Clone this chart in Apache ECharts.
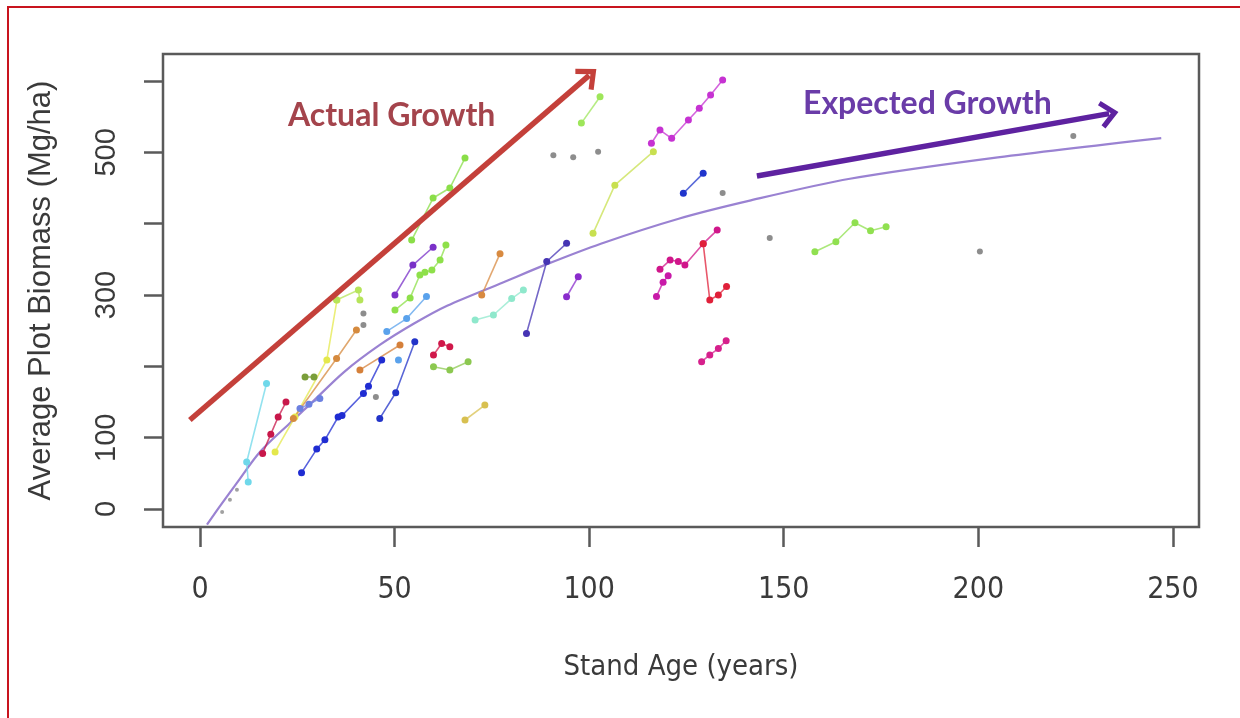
<!DOCTYPE html>
<html>
<head>
<meta charset="utf-8">
<script src="https://cdn.jsdelivr.net/npm/echarts@6/dist/echarts.min.js"></script>
<style>
  html, body { margin: 0; padding: 0; background: #ffffff; }
  #chart { width: 1240px; height: 718px; }
  #frame { position: absolute; left: 7px; top: 6px; width: 1240px; height: 730px;
           border-top: 2px solid #c8141e; border-left: 2px solid #c8141e; pointer-events: none; }
</style>
</head>
<body>
<div id="chart"></div>
<div id="frame"></div>
<script>
// ---- axis ticks ----
const ageTicks = [0, 50, 100, 150, 200, 250];
const biomassTicks = [0, 100, 200, 300, 400, 500, 600];
const biomassTickLabels = [0, 100, 300, 500];

// ---- expected growth curve ----
const expectedGrowth = [[1.8,-22],[5,3],[9.4,36],[15.4,80],[23,120],[28.3,147],[37,192],[46.2,230],[55,260],[63.5,285],[78,318],[89,343],[103,372],[123,407],[141,432],[167,463],[205,493],[247,520]];

// ---- arrows (annotation endpoints, age / biomass) ----
const actualArrow = [[-2.6,124.8],[100,608]];
const expectedArrow = [[143.1,466.9],[233.6,554.3]];

// ---- plot trajectories (age, biomass) ----
const cyanA = [[12.4,38],[12,66],[17.1,176]];
const crimsonA = [[16.1,78],[18.2,105],[20.1,129],[22.1,150]];
const yellowA = [[19.3,80],[24.4,129],[32.6,209],[35.2,293]];
const oliveA = [[27,185],[29.3,185]];
const periwinkleA = [[25.7,141],[28,147],[30.8,155]];
const orangeA = [[24,127],[35.1,211],[40.2,251]];
const orangeB = [[41.1,195],[51.4,230]];
const navyA = [[26.1,51],[30,84],[32.1,97],[35.5,129],[36.5,131],[42,162],[43.3,172],[46.7,209]];
const navyB = [[46.2,127],[50.3,163],[55.2,234.5]];
const purpleA = [[50.1,300],[54.7,342],[59.9,367]];
const lightBlueA = [[48,249],[53.1,267],[58.2,298]];
const lightBlueB = [[51,209]];
const limeA = [[50.1,279],[54,296],[56.5,328],[57.8,332],[59.6,335],[61.7,349],[63.2,370]];
const lightGreenB = [[35.1,293],[40.7,307],[41.1,293]];
const greenA = [[54.4,377],[59.9,436],[64.2,450],[68.1,492]];
const crimsonB = [[60,216],[62.1,232],[64.2,227.5]];
const greenB = [[60,199.5],[64.2,195],[68.9,206.5]];
const goldA = [[68.1,124.8],[73.2,145.8]];
const aquaA = [[70.7,265],[75.4,272],[80.1,295],[83.1,307]];
const orangeC = [[72.4,300],[77.1,358]];
const indigoA = [[83.9,246],[89.1,347],[94.2,372.5]];
const purpleB = [[94.2,297.6],[97.2,325.7]];
const lightGreenTop = [[98,541],[102.8,578]];
const yellowGreenA = [[101,386.5],[106.6,454],[116.5,501]];
const magentaA = [[116,512.7],[118.2,531.3],[121.2,519.7],[125.5,545.4],[128.3,561.8],[131.2,580.4],[134.3,601.4]];
const blueA = [[124.2,442.6],[129.3,470.6]];
const magentaB = [[117.3,298],[119,318],[120.3,327]];
const magentaC = [[118.2,336],[120.8,349],[122.9,347],[124.6,342],[129.3,372],[132.9,391]];
const redA = [[129.3,372],[131,293],[133.2,300],[135.3,312]];
const pinkLow = [[128.9,206.5],[131,216],[133.2,225],[135.2,236]];
const greenC = [[158,360.7],[163.4,374.7],[168.3,401.4],[172.3,390.2],[176.3,395.8]];
const grayDots = [[42,274],[42,258],[45.2,157],[90.8,496],[95.9,493],[102.3,501],[134.3,443],[146.4,380],[200.4,361],[224.4,523]];
const grayTicks = [[5.7,-4],[7.7,13],[9.5,27]];

const trajectories = [
  [cyanA, '#6fd8ea'], [crimsonA, '#c8174a'], [yellowA, '#e4e84c'], [oliveA, '#7a9e3a'],
  [periwinkleA, '#6c80e0'], [orangeA, '#d58a3e'], [orangeB, '#d5803a'], [navyA, '#1f2cd2'],
  [navyB, '#2233c8'], [purpleA, '#7a30c8'], [lightBlueA, '#5aa2ec'], [lightBlueB, '#5aa2ec'],
  [limeA, '#8ee04a'], [lightGreenB, '#b6e45a'], [greenA, '#8ade48'], [crimsonB, '#d0184a'],
  [greenB, '#8cc850'], [goldA, '#d8c050'], [aquaA, '#8fe8cc'], [orangeC, '#d88a40'],
  [indigoA, '#4634b4'], [purpleB, '#8a2ccc'], [lightGreenTop, '#9ee65a'], [yellowGreenA, '#c8e050'],
  [magentaA, '#c632d2'], [blueA, '#2035cc'], [magentaB, '#c81aa8'], [magentaC, '#d0168a'],
  [redA, '#e0203a'], [pinkLow, '#d6208c'], [greenC, '#90e050']
];

const chart = echarts.init(document.getElementById('chart'), null, { renderer: 'canvas' });

const chevron = 'path://M50,0 L100,56 L86,68 L50,28 L14,68 L0,56 Z';

const series = [];
series.push({
  type: 'line', data: expectedGrowth, smooth: 0.3, symbol: 'none', silent: true, z: 2,
  lineStyle: { color: '#9a82d2', width: 2.2 },
  markLine: {
    silent: true, symbol: ['none', chevron], symbolSize: [28, 19], label: { show: false },
    emphasis: { disabled: true }, animation: false,
    lineStyle: { type: 'solid' },
    data: [
      [{ coord: actualArrow[0], lineStyle: { color: '#c4403a', width: 5.5, type: 'solid' }, itemStyle: { color: '#c4403a' } },
       { coord: actualArrow[1] }],
      [{ coord: expectedArrow[0], lineStyle: { color: '#5e22a0', width: 5.5, type: 'solid' }, itemStyle: { color: '#5e22a0' } },
       { coord: expectedArrow[1] }]
    ]
  }
});
trajectories.forEach(([d, c]) => {
  series.push({
    type: 'line', data: d, symbol: 'circle', symbolSize: 7, silent: true, z: 3,
    itemStyle: { color: c }, lineStyle: { color: c, width: 1.6, opacity: 0.75 }
  });
});
series.push({ type: 'scatter', data: grayDots, symbolSize: 6, itemStyle: { color: '#707070' }, silent: true, z: 3 });
series.push({ type: 'scatter', data: grayTicks, symbolSize: 4, itemStyle: { color: '#8a8a8a' }, silent: true, z: 3 });

const labelFont = "'Liberation Sans Narrow', 'DejaVu Sans Condensed', 'Liberation Sans', sans-serif";

chart.setOption({
  animation: false,
  backgroundColor: '#ffffff',
  grid: { left: 163, right: 41, top: 54, bottom: 191, show: true, borderColor: '#5a5a5a', borderWidth: 2.5, backgroundColor: 'transparent' },
  xAxis: {
    type: 'value', min: -9.5, max: 256.7,
    name: 'Stand Age (years)', nameLocation: 'middle', nameGap: 126,
    nameTextStyle: { fontFamily: labelFont, fontSize: 29, color: '#3a3a3a' },
    axisLine: { show: false, onZero: false },
    axisTick: { show: true, length: 20, inside: false, customValues: ageTicks, lineStyle: { color: '#5a5a5a', width: 2.5 } },
    axisLabel: { customValues: ageTicks, margin: 48, fontFamily: labelFont, fontSize: 30, color: '#3a3a3a' },
    splitLine: { show: false }
  },
  yAxis: {
    type: 'value', min: -25.2, max: 637.9,
    name: 'Average Plot Biomass (Mg/ha)', nameLocation: 'middle', nameGap: 106, nameRotate: 90,
    nameTextStyle: { fontFamily: "'Liberation Sans', Arial, sans-serif", fontSize: 31, color: '#3a3a3a' },
    axisLine: { show: false, onZero: false },
    axisTick: { show: true, length: 19, inside: false, customValues: biomassTicks, lineStyle: { color: '#5a5a5a', width: 2.5 } },
    axisLabel: { customValues: biomassTickLabels, rotate: 90, margin: 42, fontFamily: "'Liberation Sans', Arial, sans-serif", fontSize: 29, color: '#3a3a3a' },
    splitLine: { show: false }
  },
  graphic: [
    { type: 'text', left: 288, top: 100, silent: true,
      style: { text: 'Actual Growth', font: "bold 32px Lato, 'Open Sans', sans-serif", fill: '#a4444c' } },
    { type: 'text', left: 803, top: 88, silent: true,
      style: { text: 'Expected Growth', font: "bold 32px Lato, 'Open Sans', sans-serif", fill: '#6a3ca8' } }
  ],
  series: series
});
</script>
</body>
</html>
